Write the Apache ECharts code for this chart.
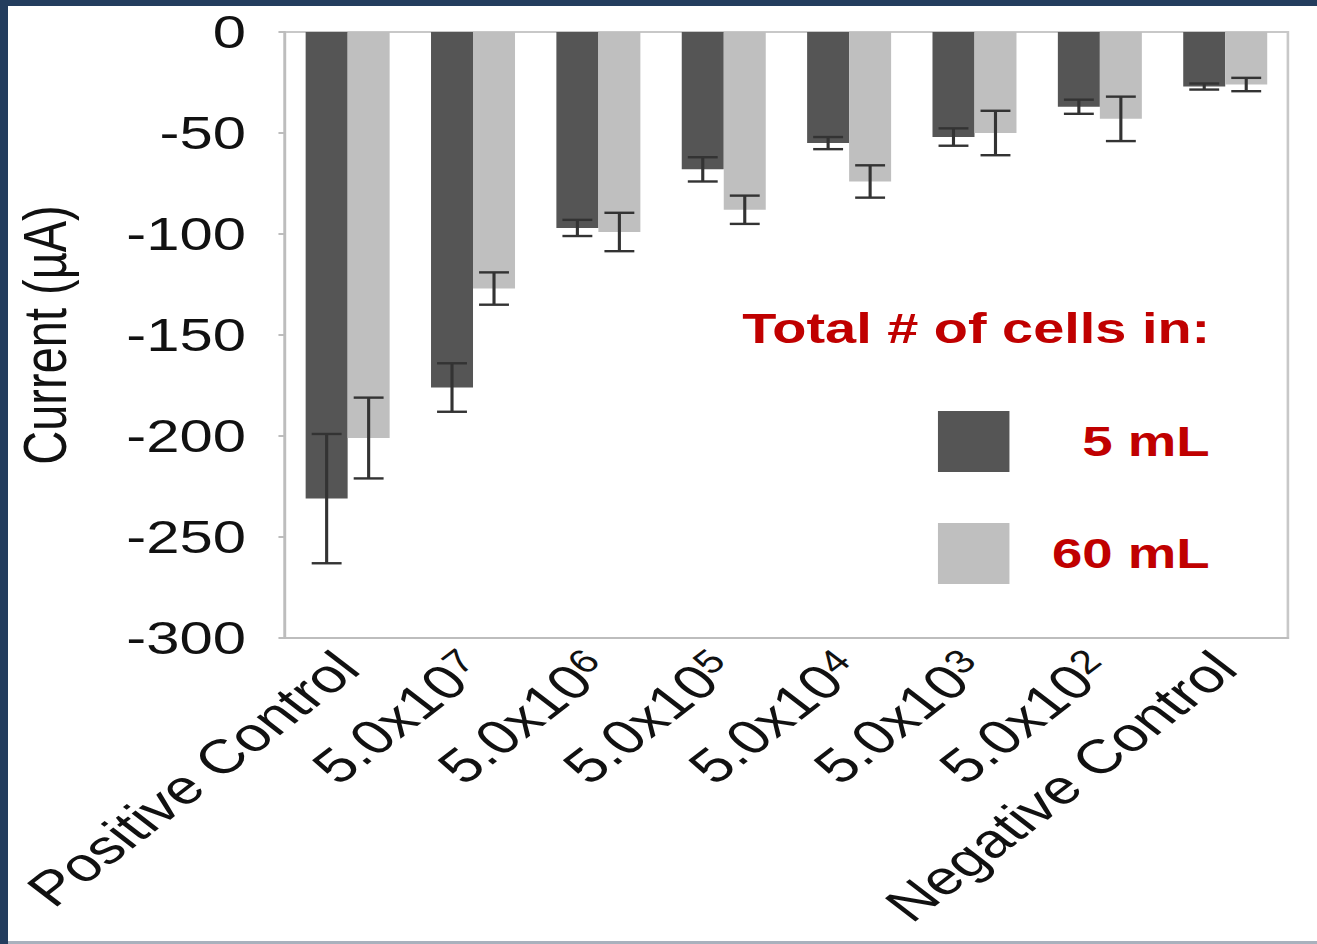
<!DOCTYPE html>
<html>
<head>
<meta charset="utf-8">
<script src="https://cdn.jsdelivr.net/npm/echarts@6/dist/echarts.min.js"></script>
<style>
  html, body { margin: 0; padding: 0; width: 1317px; height: 944px; overflow: hidden; background: #233d5e; }
  #panel { position: absolute; left: 8px; top: 6px; width: 1309px; height: 935px; background: #ffffff; }
  #strip { position: absolute; left: 8px; top: 941px; width: 1309px; height: 3px; background: #a9b1bd; }
  #chart { position: absolute; left: 0; top: 0; width: 1013px; height: 944px; transform: scaleX(1.3); transform-origin: 0 0; }
</style>
</head>
<body>
<div id="panel"></div>
<div id="strip"></div>
<div id="chart"></div>
<script>
// ---- data ----
const categories = ['Positive Control', '5.0x10^7', '5.0x10^6', '5.0x10^5', '5.0x10^4', '5.0x10^3', '5.0x10^2', 'Negative Control'];
const seriesNames = ['5 mL', '60 mL'];
const mean5 = [-231, -176, -97, -68, -55, -52, -37, -27];
const err5 = [32, 12, 4, 6, 3, 4.3, 3.5, 1.5];
const mean60 = [-201, -127, -99, -88, -74, -50, -43, -26];
const err60 = [20, 8, 9.5, 7, 8, 11, 11, 3.3];
const yMin = -300, yMax = 0, yStep = 50;
const legendTitle = 'Total # of cells in:';
const yName = 'Current (\u00B5A)';

// ---- style ----
const FONT = "'Liberation Sans', Arial, Helvetica, sans-serif";
const RED = '#c00000';
const DARK = '#555555';
const LIGHT = '#bfbfbf';
const CAT_GAP = 0.33;

const chart = echarts.init(document.getElementById('chart'), null, { renderer: 'svg' });

function errItem(seriesSide) {
  return function (params, api) {
    const x = api.value(0), m = api.value(1), e = api.value(2);
    const band = api.size([1, 0])[0];
    const bw = band * (1 - CAT_GAP) / 2;
    const off = seriesSide * bw / 2;
    const pt = api.coord([x, m + e]);
    const pb = api.coord([x, m - e]);
    const cx = pt[0] + off;
    const half = 11.5;
    const st = { stroke: '#333333', lineWidth: 2.4 };
    return {
      type: 'group',
      children: [
        { type: 'line', shape: { x1: cx, y1: pt[1], x2: cx, y2: pb[1] }, style: st },
        { type: 'line', shape: { x1: cx - half, y1: pt[1], x2: cx + half, y2: pt[1] }, style: st },
        { type: 'line', shape: { x1: cx - half, y1: pb[1], x2: cx + half, y2: pb[1] }, style: st }
      ]
    };
  };
}

const option = {
  backgroundColor: 'transparent',
  animation: false,
  title: {
    text: legendTitle,
    left: 571, top: 307, padding: 0,
    textStyle: { fontFamily: FONT, fontSize: 43, fontWeight: 'bold', color: RED }
  },
  legend: {
    data: seriesNames,
    orient: 'vertical',
    left: 721.5, top: 411,
    padding: 0,
    itemWidth: 55, itemHeight: 61, itemGap: 51,
    icon: 'rect',
    formatter: function (name) { return '{a|' + name + '}'; },
    textStyle: {
      rich: { a: { width: 149, align: 'right', fontFamily: FONT, fontSize: 42, fontWeight: 'bold', color: RED } }
    }
  },
  grid: {
    left: 219.2, right: 22.3, top: 32, bottom: 306,
    show: true, borderColor: '#c8c8c8', borderWidth: 2, backgroundColor: 'transparent'
  },
  xAxis: {
    type: 'category',
    data: categories,
    axisLine: { onZero: false, lineStyle: { color: '#bdbdbd', width: 2 } },
    axisTick: { show: false },
    axisLabel: {
      rotate: 45, interval: 0, margin: 22,
      fontFamily: FONT, fontSize: 48, color: '#111',
      formatter: function (v) {
        const k = v.indexOf('^');
        if (k < 0) return v;
        return v.slice(0, k) + '{s|' + v.slice(k + 1) + '}';
      },
      rich: { s: { fontFamily: FONT, fontSize: 33, color: '#111', verticalAlign: 'top' } }
    }
  },
  yAxis: {
    type: 'value',
    min: yMin, max: yMax, interval: yStep,
    name: yName, nameLocation: 'middle', nameRotate: 90, nameGap: 161,
    nameTextStyle: { fontFamily: FONT, fontSize: 47, color: '#111' },
    axisLine: { show: true, lineStyle: { color: '#bdbdbd', width: 2 } },
    axisTick: { show: true, length: 5, lineStyle: { color: '#bdbdbd', width: 2 } },
    splitLine: { show: false },
    axisLabel: { margin: 30, fontFamily: FONT, fontSize: 46, color: '#111' }
  },
  series: [
    { name: seriesNames[0], type: 'bar', data: mean5, barGap: '0%', barCategoryGap: (CAT_GAP * 100) + '%', itemStyle: { color: DARK } },
    { name: seriesNames[1], type: 'bar', data: mean60, barGap: '0%', barCategoryGap: (CAT_GAP * 100) + '%', itemStyle: { color: LIGHT } },
    { name: 'err5', type: 'custom', z: 5, renderItem: errItem(-1), data: mean5.map((m, i) => [i, m, err5[i]]), encode: { x: 0, y: 1 } },
    { name: 'err60', type: 'custom', z: 5, renderItem: errItem(1), data: mean60.map((m, i) => [i, m, err60[i]]), encode: { x: 0, y: 1 } }
  ]
};
chart.setOption(option);
</script>
</body>
</html>
